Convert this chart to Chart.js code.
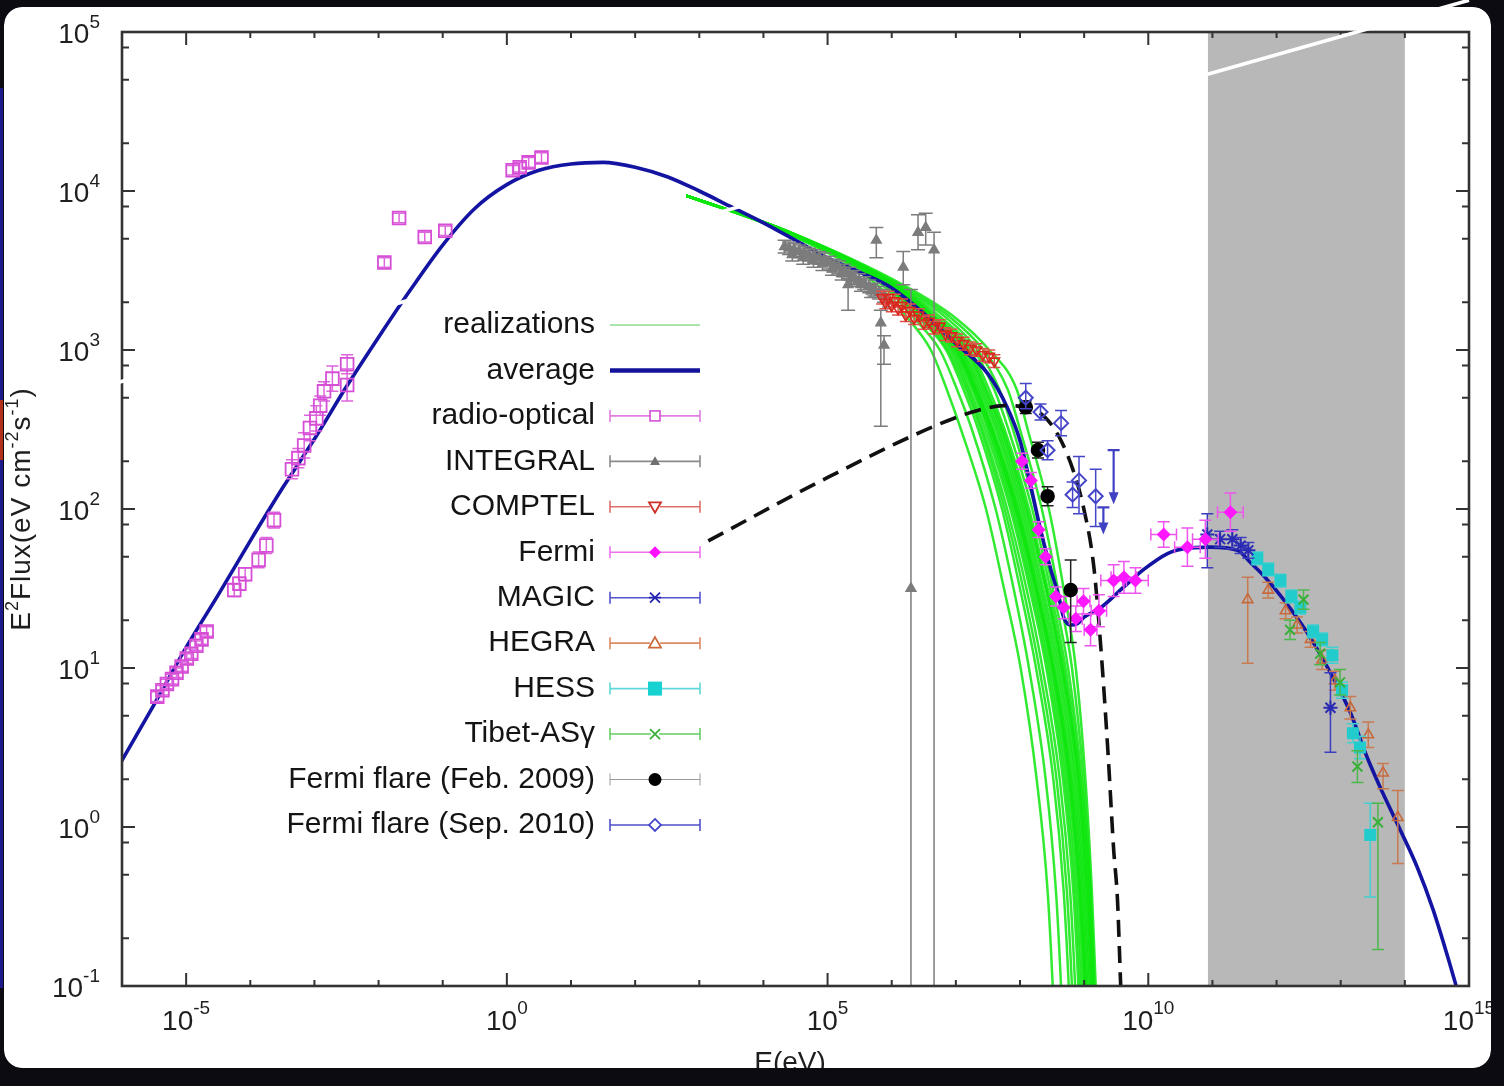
<!DOCTYPE html>
<html>
<head>
<meta charset="utf-8">
<script src="https://cdn.jsdelivr.net/npm/chart.js@4.4.1/dist/chart.umd.min.js"></script>
<style>
  html, body { margin: 0; padding: 0; background: #0c0b12; overflow: hidden; }
  canvas { display: block; }
</style>
</head>
<body>
<canvas id="sed" width="1504" height="1086"></canvas>
<script>
// ---- values, all in log10 units: [log10 E(eV), log10 E^2 Flux, dLo, dHi, dE] ----

const xMajorExps = [-5, 0, 5, 10, 15];
const yMajorExps = [-1, 0, 1, 2, 3, 4, 5];
const yMinorMantissas = [2, 5, 8];
const shadedBand = [10.93, 14.0];

const average = [
  [-6.2,0.28],[-5.5,0.77],[-5.0,1.13],[-4.5,1.46],[-4.0,1.80],[-3.5,2.13],[-3.0,2.44],[-2.5,2.77],
  [-2.0,3.08],[-1.5,3.38],[-1.0,3.66],[-0.5,3.89],[0.0,4.04],[0.5,4.13],[1.0,4.17],[1.5,4.18],
  [2.0,4.15],[2.5,4.09],[3.0,4.00],[3.5,3.90],[4.0,3.80],[4.5,3.69],[5.0,3.58],[5.5,3.49],
  [6.0,3.39],[6.5,3.23],[7.0,3.04],[7.5,2.85],[7.8,2.64],[8.0,2.43],[8.17,2.14],[8.32,1.87],
  [8.48,1.62],[8.59,1.47],[8.68,1.32],[8.79,1.27],[8.90,1.28],[9.0,1.32],[9.26,1.38],[9.62,1.51],
  [9.93,1.62],[10.3,1.72],[10.55,1.75],[10.97,1.76],[11.39,1.74],[11.6,1.66],[11.8,1.58],[12.11,1.43],
  [12.48,1.22],[12.84,0.97],[13.15,0.72],[13.41,0.44],[13.66,0.21],[13.93,-0.02],[14.19,-0.25],
  [14.44,-0.52],[14.70,-0.86],[14.85,-1.07]
];

// realizations: log10 E reached at each of these flux levels
const realizationLevels = [3.97, 3.75, 3.4, 3.2, 3.0, 2.75, 2.5, 2.0, 1.5, 1.0, 0.3, -0.4, -1.0, -1.3];
const realizations = [
  [2.8,4.28,5.80,6.25,6.61,6.86,7.08,7.47,7.75,8.01,8.26,8.43,8.51,8.54],
  [2.8,4.30,5.88,6.35,6.75,7.02,7.25,7.62,7.90,8.14,8.40,8.56,8.64,8.67],
  [2.8,4.31,5.92,6.42,6.85,7.12,7.35,7.72,8.00,8.25,8.52,8.68,8.76,8.79],
  [2.8,4.31,5.94,6.45,6.88,7.16,7.39,7.76,8.05,8.30,8.57,8.73,8.81,8.84],
  [2.8,4.32,5.95,6.48,6.92,7.19,7.42,7.80,8.10,8.35,8.62,8.78,8.86,8.89],
  [2.8,4.32,5.97,6.51,6.95,7.22,7.46,7.85,8.15,8.41,8.67,8.83,8.91,8.94],
  [2.8,4.32,5.98,6.53,6.98,7.26,7.50,7.88,8.18,8.44,8.70,8.86,8.94,8.97],
  [2.8,4.33,5.99,6.55,7.00,7.28,7.52,7.91,8.21,8.47,8.73,8.89,8.97,9.00],
  [2.8,4.33,6.00,6.56,7.02,7.31,7.55,7.93,8.24,8.50,8.76,8.92,9.00,9.03],
  [2.8,4.33,6.00,6.57,7.03,7.30,7.55,7.94,8.25,8.51,8.77,8.93,9.01,9.04],
  [2.8,4.33,6.01,6.57,7.04,7.32,7.57,7.96,8.26,8.52,8.78,8.94,9.02,9.05],
  [2.8,4.33,6.01,6.58,7.05,7.34,7.58,7.97,8.27,8.53,8.80,8.96,9.03,9.06],
  [2.8,4.33,6.02,6.60,7.08,7.37,7.62,8.00,8.30,8.56,8.82,8.98,9.05,9.08],
  [2.8,4.34,6.03,6.62,7.10,7.40,7.65,8.03,8.33,8.59,8.85,9.00,9.07,9.10],
  [2.8,4.34,6.05,6.65,7.14,7.43,7.68,8.06,8.36,8.62,8.87,9.02,9.09,9.12],
  [2.8,4.34,6.06,6.67,7.17,7.46,7.71,8.09,8.40,8.65,8.90,9.04,9.11,9.14],
  [2.8,4.34,6.07,6.69,7.19,7.48,7.73,8.11,8.41,8.66,8.91,9.05,9.12,9.15],
  [2.8,4.34,6.08,6.72,7.22,7.52,7.76,8.14,8.43,8.68,8.92,9.06,9.13,9.16],
  [2.8,4.35,6.10,6.78,7.28,7.60,7.82,8.19,8.47,8.71,8.94,9.08,9.14,9.17],
  [2.8,4.35,6.13,6.86,7.34,7.68,7.89,8.24,8.51,8.75,8.96,9.09,9.15,9.18],
  [2.8,4.35,6.17,6.93,7.43,7.81,8.00,8.34,8.59,8.81,8.99,9.10,9.16,9.19],
  [2.8,4.36,6.22,7.00,7.52,7.95,8.12,8.45,8.68,8.87,9.02,9.12,9.18,9.21]
];

const flareModel = [
  [3.14,1.80],[5.01,2.20],[6.66,2.52],[7.34,2.62],[7.75,2.65],[8.12,2.64],[8.43,2.56],[8.64,2.43],
  [8.84,2.23],[8.99,2.01],[9.15,1.64],[9.26,1.13],[9.37,0.48],[9.46,-0.14],[9.52,-0.46],[9.57,-1.0],[9.60,-1.3]
];

const radioOptical = [
  [-5.45,0.82,0.03,0.03],[-5.37,0.86,0.03,0.03],[-5.30,0.90,0.03,0.03],[-5.22,0.93,0.03,0.03],
  [-5.15,0.97,0.03,0.03],[-5.07,1.01,0.03,0.03],[-4.99,1.06,0.03,0.03],[-4.92,1.09,0.03,0.03],
  [-4.84,1.14,0.03,0.03],[-4.76,1.18,0.03,0.03],[-4.68,1.23,0.03,0.03],
  [-4.25,1.49,0.04,0.04],[-4.17,1.53,0.04,0.04],[-4.08,1.59,0.04,0.04],[-3.87,1.68,0.05,0.05],
  [-3.75,1.77,0.05,0.05],[-3.63,1.93,0.05,0.05],[-3.35,2.25,0.06,0.06],[-3.25,2.32,0.06,0.06],
  [-3.16,2.40,0.08,0.08],[-3.07,2.51,0.08,0.08],[-2.97,2.57,0.08,0.08],[-2.91,2.65,0.06,0.06],
  [-2.85,2.74,0.06,0.06],[-2.72,2.82,0.08,0.08],[-2.49,2.91,0.06,0.06],[-2.49,2.78,0.10,0.10],
  [-1.91,3.55,0.03,0.03],[-1.68,3.83,0.03,0.03],[-1.28,3.71,0.03,0.03],[-0.96,3.75,0.03,0.03],
  [0.09,4.13,0.03,0.03],[0.20,4.15,0.03,0.03],[0.34,4.18,0.03,0.03],[0.54,4.21,0.03,0.03]
];

const integral = [
  [4.33,3.65,0.04,0.04],[4.40,3.64,0.04,0.04],[4.45,3.60,0.04,0.04],[4.48,3.63,0.04,0.04],
  [4.56,3.62,0.04,0.04],[4.62,3.58,0.04,0.04],[4.64,3.61,0.04,0.04],[4.71,3.60,0.04,0.04],
  [4.78,3.56,0.04,0.04],[4.79,3.59,0.04,0.04],[4.87,3.58,0.04,0.04],[4.92,3.54,0.04,0.04],
  [4.95,3.57,0.04,0.04],[5.03,3.55,0.04,0.04],[5.07,3.51,0.04,0.04],[5.10,3.53,0.04,0.04],
  [5.18,3.52,0.04,0.04],[5.22,3.48,0.04,0.04],[5.26,3.50,0.04,0.04],[5.34,3.48,0.04,0.04],
  [5.37,3.45,0.04,0.04],[5.41,3.46,0.04,0.04],[5.49,3.44,0.04,0.04],[5.52,3.41,0.04,0.04],
  [5.57,3.42,0.04,0.04],[5.65,3.40,0.04,0.04],[5.68,3.37,0.04,0.04],[5.73,3.38,0.04,0.04],
  [5.80,3.36,0.04,0.04],[5.88,3.34,0.04,0.04],[5.96,3.31,0.04,0.04],
  [5.76,3.69,0.11,0.08],[6.18,3.52,0.11,0.10],[6.41,3.74,0.11,0.11],[6.53,3.77,0.11,0.09],
  [6.66,3.63,5.0,0.11],[6.30,1.50,5.0,1.88],[5.83,3.17,0.65,0.08],[5.32,3.41,0.16,0.04],[5.88,3.03,0.12,0.06]
];

const comptel = [
  [5.85,3.33],[5.90,3.30],[5.95,3.33],[6.00,3.28],[6.05,3.31],[6.10,3.26],[6.16,3.28],[6.22,3.22],
  [6.28,3.25],[6.35,3.20],[6.42,3.22],[6.50,3.17],[6.58,3.18],[6.66,3.14],[6.75,3.15],[6.84,3.10],
  [6.93,3.09],[7.02,3.06],[7.12,3.04],[7.22,3.01],[7.32,3.00],[7.42,2.97],[7.52,2.96],[7.60,2.93]
].map(p => [p[0], p[1], 0.04, 0.04]);

const fermi = [
  [8.03,2.30,0.05,0.05,0],[8.17,2.18,0.05,0.05,0],[8.29,1.87,0.05,0.05,0],[8.40,1.70,0.05,0.05,0],
  [8.56,1.45,0.06,0.06,0],[8.68,1.38,0.07,0.07,0],[8.87,1.31,0.08,0.08,0.1],[8.99,1.42,0.08,0.08,0.1],
  [9.10,1.24,0.10,0.10,0.1],[9.23,1.36,0.10,0.10,0.12],[9.46,1.55,0.10,0.10,0.2],[9.62,1.57,0.10,0.10,0.2],
  [9.80,1.55,0.08,0.08,0.2],[10.24,1.84,0.08,0.08,0.2],[10.61,1.76,0.12,0.12,0.2],[10.89,1.81,0.12,0.12,0.2],
  [11.28,1.98,0.12,0.12,0.2]
];

const magic = [
  [10.92,1.84,0.21,0.13],[11.12,1.81,0.05,0.05],[11.31,1.81,0.06,0.06],[11.44,1.77,0.05,0.05],
  [11.56,1.74,0.05,0.05],[12.84,0.75,0.28,0.22]
];

const hegra = [
  [11.55,1.43,0.40,0.14],[11.87,1.49,0.05,0.05],[12.14,1.36,0.05,0.05],[12.32,1.27,0.05,0.05],
  [12.53,1.18,0.05,0.05],[12.71,1.05,0.06,0.06],[12.91,0.92,0.06,0.06],[13.15,0.75,0.07,0.07],
  [13.43,0.58,0.08,0.08],[13.66,0.34,0.10,0.06],[13.89,0.06,0.29,0.17]
];

const hess = [
  [11.70,1.69,0.04,0.04],[11.87,1.62,0.04,0.04],[12.06,1.55,0.04,0.04],[12.23,1.45,0.04,0.04],
  [12.37,1.38,0.04,0.04],[12.57,1.23,0.04,0.04],[12.71,1.18,0.04,0.04],[12.87,1.08,0.05,0.05],
  [13.02,0.86,0.05,0.05],[13.19,0.59,0.06,0.06],[13.30,0.50,0.07,0.07],[13.46,-0.05,0.39,0.20]
];

const tibet = [
  [12.21,1.24,0.06,0.06],[12.42,1.43,0.06,0.06],[12.68,1.09,0.07,0.07],[12.99,0.91,0.08,0.08],
  [13.26,0.38,0.10,0.10],[13.58,0.03,0.80,0.12]
];

const flareFeb2009 = [
  [8.09,2.64,0.04,0.04],[8.28,2.37,0.05,0.05],[8.43,2.08,0.06,0.06],[8.79,1.49,0.33,0.19]
];

const flareSep2010 = [
  [8.09,2.70,0.07,0.09],[8.32,2.61,0.05,0.05],[8.64,2.54,0.08,0.08],[8.43,2.37,0.06,0.06],
  [8.92,2.18,0.21,0.15],[8.82,2.09,0.08,0.08],[9.18,2.08,0.19,0.17]
];
// upper limits: [log E, log flux, arrow length in log flux]
const flareSep2010Limits = [[9.30,2.01,0.17],[9.46,2.37,0.34]];

const legendLabels = ['realizations','average','radio-optical','INTEGRAL','COMPTEL','Fermi','MAGIC',
  'HEGRA','HESS','Tibet-ASγ','Fermi flare (Feb. 2009)','Fermi flare (Sep. 2010)'];

// ---- helpers ----
const lin = v => Math.pow(10, v);
const toXY = arr => arr.map(p => ({ x: lin(p[0]), y: lin(p[1]) }));
const FONT = '"Liberation Sans", Arial, Helvetica, sans-serif';

function pointSet(label, arr, style, color, opts) {
  return Object.assign({
    label, data: toXY(arr), errs: arr, showLine: false,
    pointStyle: style, pointRadius: 6, pointBorderWidth: 1.6,
    pointBorderColor: color, pointBackgroundColor: color,
    errColor: color, capHalf: 6, order: 10
  }, opts || {});
}

const realizationSets = realizations.map((row, k) => ({
  label: 'realization ' + (k + 1),
  data: row.map((e, i) => ({ x: lin(e), y: lin(realizationLevels[i]) })),
  showLine: true, pointRadius: 0, borderColor: 'rgba(14,230,14,0.85)', borderWidth: 2.5,
  cubicInterpolationMode: 'monotone', order: 60
}));

const datasets = [
  ...realizationSets,
  { label: 'average', data: toXY(average), showLine: true, pointRadius: 0, borderColor: '#1414a2',
    borderWidth: 3.6, cubicInterpolationMode: 'monotone', order: 50 },
  { label: 'flare model', data: toXY(flareModel), showLine: true, pointRadius: 0, borderColor: '#111',
    borderWidth: 3.6, borderDash: [17, 9], cubicInterpolationMode: 'monotone', order: 49 },
  pointSet('INTEGRAL', integral, 'triangle', '#7c7c7c', { pointRadius: 5.5, capHalf: 7, order: 40 }),
  pointSet('COMPTEL', comptel, 'triangle', '#d8261c', { pointRotation: 180, pointBackgroundColor: 'rgba(255,255,255,0)', pointRadius: 6, errColor: '#e0504a', order: 39 }),
  pointSet('radio-optical', radioOptical, 'rect', '#d64ed6', { pointBackgroundColor: 'rgba(255,255,255,0)', pointRadius: 9, pointBorderWidth: 1.8, errColor: '#dd66dd', order: 30 }),
  pointSet('HEGRA', hegra, 'triangle', '#c8693c', { pointBackgroundColor: 'rgba(255,255,255,0)', errColor: '#c87a50', order: 25 }),
  pointSet('HESS', hess, 'rect', '#22cccc', { pointRadius: 8.5, pointBorderWidth: 0, errColor: '#40d0d0', order: 24 }),
  pointSet('Tibet-ASγ', tibet, 'crossRot', '#38b038', { pointRadius: 7, pointBorderWidth: 2, errColor: '#4cb84c', order: 23 }),
  pointSet('MAGIC', magic, 'star', '#2a2ab4', { pointRadius: 7, pointBorderWidth: 2, errColor: '#3c3cc0', order: 22 }),
  pointSet('Fermi', fermi, 'rectRot', '#ff18ff', { pointRadius: 7, pointBorderWidth: 0, errColor: '#ee55ee', order: 15 }),
  pointSet('Fermi flare (Feb. 2009)', flareFeb2009, 'circle', '#000', { pointRadius: 6.5, errColor: '#222', order: 12 }),
  pointSet('Fermi flare (Sep. 2010)', flareSep2010, 'rectRot', '#4545c8', { pointBackgroundColor: 'rgba(255,255,255,0)', pointRadius: 7, pointBorderWidth: 2, order: 11 })
];

// ---- drawing helpers ----
function supText(ctx, base, sup, x, y, align, baseSize, supSize, rise) {
  ctx.font = baseSize + 'px ' + FONT;
  const wb = ctx.measureText(base).width;
  ctx.font = supSize + 'px ' + FONT;
  const ws = ctx.measureText(sup).width;
  let x0 = align === 'center' ? x - (wb + ws) / 2 : (align === 'right' ? x - wb - ws : x);
  ctx.textAlign = 'left';
  ctx.textBaseline = 'middle';
  ctx.font = baseSize + 'px ' + FONT;
  ctx.fillText(base, x0, y);
  ctx.font = supSize + 'px ' + FONT;
  ctx.fillText(sup, x0 + wb, y - rise);
}

function drawMarker(ctx, style, x, y, color, filled, r) {
  ctx.save();
  ctx.strokeStyle = color; ctx.fillStyle = color; ctx.lineWidth = 1.8;
  ctx.beginPath();
  if (style === 'rect') { ctx.rect(x - r, y - r, 2 * r, 2 * r); }
  else if (style === 'tri') { ctx.moveTo(x, y - r); ctx.lineTo(x + r, y + r * 0.75); ctx.lineTo(x - r, y + r * 0.75); ctx.closePath(); }
  else if (style === 'triDown') { ctx.moveTo(x, y + r); ctx.lineTo(x + r, y - r * 0.75); ctx.lineTo(x - r, y - r * 0.75); ctx.closePath(); }
  else if (style === 'diamond') { ctx.moveTo(x, y - r); ctx.lineTo(x + r, y); ctx.lineTo(x, y + r); ctx.lineTo(x - r, y); ctx.closePath(); }
  else if (style === 'circle') { ctx.arc(x, y, r, 0, Math.PI * 2); }
  else if (style === 'x') { ctx.moveTo(x - r, y - r); ctx.lineTo(x + r, y + r); ctx.moveTo(x + r, y - r); ctx.lineTo(x - r, y + r); }
  else if (style === 'star') { ctx.moveTo(x - r, y - r); ctx.lineTo(x + r, y + r); ctx.moveTo(x + r, y - r); ctx.lineTo(x - r, y + r); ctx.moveTo(x - r * 1.2, y); ctx.lineTo(x + r * 1.2, y); }
  if (filled && style !== 'x' && style !== 'star') ctx.fill(); else ctx.stroke();
  ctx.restore();
}

const legendSamples = [
  { line: '#8fdc8f', w: 1.6 },
  { line: '#12129a', w: 4.5 },
  { line: '#e27ee2', caps: true, mark: 'rect', color: '#d860d8', filled: false, r: 5 },
  { line: '#8a8a8a', caps: true, mark: 'tri', color: '#707070', filled: true, r: 5 },
  { line: '#dd6f6a', caps: true, mark: 'triDown', color: '#cc3028', filled: false, r: 6 },
  { line: '#f070f0', caps: true, mark: 'diamond', color: '#ff10ff', filled: true, r: 6 },
  { line: '#5353cc', caps: true, mark: 'star', color: '#2424b0', filled: false, r: 5 },
  { line: '#dd8a64', caps: true, mark: 'tri', color: '#cc6a3c', filled: false, r: 6 },
  { line: '#5ed8d8', caps: true, mark: 'rect', color: '#18d2d2', filled: true, r: 7 },
  { line: '#66cc66', caps: true, mark: 'x', color: '#3ab03a', filled: false, r: 5 },
  { line: '#9a9a9a', caps: true, mark: 'circle', color: '#000', filled: true, r: 6.5, w: 1 },
  { line: '#5050c8', caps: true, mark: 'diamond', color: '#4545c8', filled: false, r: 6 }
];

const sedPlugin = {
  id: 'sedDecor',
  beforeDraw(chart) {
    const ctx = chart.ctx;
    ctx.save();
    ctx.fillStyle = '#0c0b12';
    ctx.fillRect(0, 0, chart.width, chart.height);
    ctx.fillStyle = '#ffffff';
    ctx.beginPath();
    ctx.roundRect(4, 7, 1487, 1061, 18);
    ctx.fill();
    ctx.restore();
  },
  beforeDatasetsDraw(chart) {
    const { ctx, chartArea: a, scales: { x } } = chart;
    const x0 = x.getPixelForValue(lin(shadedBand[0]));
    const x1 = x.getPixelForValue(lin(shadedBand[1]));
    ctx.save();
    ctx.fillStyle = '#b8b8b8';
    ctx.fillRect(x0, a.top, x1 - x0, a.bottom - a.top);
    ctx.restore();
  },
  beforeDatasetDraw(chart, args) {
    const ds = chart.data.datasets[args.index];
    const { ctx, chartArea: a, scales: { x, y } } = chart;
    ctx.save();
    ctx.beginPath();
    ctx.rect(a.left, a.top, a.right - a.left, a.bottom - a.top);
    ctx.clip();
    if (ds.errs) {
      ctx.strokeStyle = ds.errColor;
      ctx.lineWidth = 1.5;
      const c = ds.capHalf;
      ds.errs.forEach(p => {
        const px = x.getPixelForValue(lin(p[0]));
        const py = y.getPixelForValue(lin(p[1]));
        const dLo = p[2] || 0, dHi = p[3] || 0, dE = p[4] || 0;
        ctx.beginPath();
        if (dLo || dHi) {
          const yl = y.getPixelForValue(lin(p[1] - dLo));
          const yh = y.getPixelForValue(lin(p[1] + dHi));
          ctx.moveTo(px, yl); ctx.lineTo(px, yh);
          ctx.moveTo(px - c, yl); ctx.lineTo(px + c, yl);
          ctx.moveTo(px - c, yh); ctx.lineTo(px + c, yh);
        }
        if (dE) {
          const xl = x.getPixelForValue(lin(p[0] - dE));
          const xh = x.getPixelForValue(lin(p[0] + dE));
          ctx.moveTo(xl, py); ctx.lineTo(xh, py);
          ctx.moveTo(xl, py - c); ctx.lineTo(xl, py + c);
          ctx.moveTo(xh, py - c); ctx.lineTo(xh, py + c);
        }
        ctx.stroke();
      });
    }
    if (ds.label === 'Fermi flare (Sep. 2010)') {
      ctx.strokeStyle = '#4040c4';
      ctx.fillStyle = '#4040c4';
      ctx.lineWidth = 2.2;
      flareSep2010Limits.forEach(p => {
        const px = x.getPixelForValue(lin(p[0]));
        const yt = y.getPixelForValue(lin(p[1]));
        const yb = y.getPixelForValue(lin(p[1] - p[2]));
        ctx.beginPath();
        ctx.moveTo(px - 6, yt); ctx.lineTo(px + 6, yt);
        ctx.moveTo(px, yt); ctx.lineTo(px, yb - 8);
        ctx.stroke();
        ctx.beginPath();
        ctx.moveTo(px - 5, yb - 12); ctx.lineTo(px + 5, yb - 12); ctx.lineTo(px, yb); ctx.closePath();
        ctx.fill();
      });
    }
    ctx.restore();
  },
  afterDatasetsDraw(chart) {
    const { ctx, chartArea: a, scales: { x, y } } = chart;
    ctx.save();
    // frame
    ctx.strokeStyle = '#333';
    ctx.lineWidth = 2.6;
    ctx.strokeRect(a.left, a.top, a.right - a.left, a.bottom - a.top);
    // ticks
    ctx.lineWidth = 2;
    ctx.beginPath();
    for (let e = -6; e <= 15; e++) {
      const px = x.getPixelForValue(lin(e));
      const len = xMajorExps.includes(e) ? 13 : 6;
      ctx.moveTo(px, a.bottom); ctx.lineTo(px, a.bottom - len);
      ctx.moveTo(px, a.top); ctx.lineTo(px, a.top + len);
    }
    yMajorExps.forEach(e => {
      const py = y.getPixelForValue(lin(e));
      ctx.moveTo(a.left, py); ctx.lineTo(a.left + 13, py);
      ctx.moveTo(a.right, py); ctx.lineTo(a.right - 13, py);
      if (e < 5) {
        yMinorMantissas.forEach(m => {
          const pm = y.getPixelForValue(m * lin(e));
          ctx.moveTo(a.left, pm); ctx.lineTo(a.left + 7, pm);
          ctx.moveTo(a.right, pm); ctx.lineTo(a.right - 7, pm);
        });
      }
    });
    ctx.stroke();
    // tick labels
    ctx.fillStyle = '#1e1e1e';
    xMajorExps.forEach(e => {
      supText(ctx, '10', String(e), x.getPixelForValue(lin(e)), a.bottom + 36, 'center', 28, 19, 13);
    });
    yMajorExps.forEach(e => {
      supText(ctx, '10', String(e), 100, y.getPixelForValue(lin(e)) + 3, 'right', 28, 19, 12);
    });
    // axis titles
    ctx.font = '28px ' + FONT;
    ctx.textAlign = 'center';
    ctx.textBaseline = 'alphabetic';
    ctx.fillText('E(eV)', 790, 1071);
    ctx.save();
    ctx.translate(30, 509);
    ctx.rotate(-Math.PI / 2);
    ctx.letterSpacing = '1px';
    const parts = [['E', 0], ['2', 1], ['Flux(eV cm', 0], ['-2', 1], ['s', 0], ['-1', 1], [')', 0]];
    let total = 0;
    parts.forEach(p => { ctx.font = (p[1] ? 18 : 28) + 'px ' + FONT; total += ctx.measureText(p[0]).width; });
    let cx = -total / 2;
    ctx.textAlign = 'left';
    parts.forEach(p => {
      ctx.font = (p[1] ? 18 : 28) + 'px ' + FONT;
      ctx.fillText(p[0], cx, p[1] ? -12 : 0);
      cx += ctx.measureText(p[0]).width;
    });
    ctx.restore();
    // legend
    const textRight = 595, lx0 = 610, lx1 = 700, lxm = 655;
    legendLabels.forEach((lab, i) => {
      const ly = 325 + i * 45.45;
      ctx.save();
      ctx.font = '30px ' + FONT;
      ctx.fillStyle = '#141414';
      ctx.textAlign = 'right';
      ctx.textBaseline = 'middle';
      ctx.fillText(lab, textRight, ly);
      ctx.restore();
      const s = legendSamples[i];
      ctx.save();
      ctx.strokeStyle = s.line;
      ctx.lineWidth = s.w || 1.6;
      ctx.beginPath();
      ctx.moveTo(lx0, ly); ctx.lineTo(lx1, ly);
      if (s.caps) {
        ctx.moveTo(lx0, ly - 6); ctx.lineTo(lx0, ly + 6);
        ctx.moveTo(lx1, ly - 6); ctx.lineTo(lx1, ly + 6);
      }
      ctx.stroke();
      ctx.restore();
      if (s.mark) {
        if (!s.filled) {
          ctx.save(); ctx.fillStyle = '#fff';
          ctx.fillRect(lxm - s.r + 1, ly - s.r + 1, 2 * s.r - 2, 2 * s.r - 2);
          ctx.restore();
        }
        drawMarker(ctx, s.mark, lxm, ly, s.color, s.filled, s.r);
      }
    });
    ctx.restore();
  },
  afterDraw(chart) {
    const ctx = chart.ctx;
    const { x, y } = chart.scales;
    ctx.save();
    // dark surround outside the sheet
    ctx.fillStyle = '#0c0b12';
    ctx.beginPath();
    ctx.rect(0, 0, chart.width, chart.height);
    ctx.roundRect(4, 7, 1487, 1061, 18);
    ctx.fill('evenodd');
    ctx.fillStyle = '#1c1a8c';
    ctx.fillRect(0, 88, 3, 900);
    ctx.fillStyle = '#b0301a';
    ctx.fillRect(0, 400, 3, 60);
    // white streak across the sheet
    ctx.strokeStyle = '#ffffff';
    ctx.lineWidth = 3.5;
    ctx.beginPath();
    ctx.moveTo(x.getPixelForValue(lin(-6.2)), y.getPixelForValue(lin(2.78)));
    ctx.lineTo(x.getPixelForValue(lin(15.0)), y.getPixelForValue(lin(5.2)));
    ctx.stroke();
    ctx.restore();
  }
};

new Chart(document.getElementById('sed'), {
  type: 'scatter',
  data: { datasets },
  options: {
    responsive: false,
    animation: false,
    devicePixelRatio: 1,
    events: [],
    layout: { padding: { left: 122, right: 35, top: 32, bottom: 100 } },
    scales: {
      x: { type: 'logarithmic', min: 1e-6, max: 1e15, display: false },
      y: { type: 'logarithmic', min: 0.1, max: 1e5, display: false }
    },
    plugins: { legend: { display: false }, tooltip: { enabled: false } }
  },
  plugins: [sedPlugin]
});
</script>
</body>
</html>
